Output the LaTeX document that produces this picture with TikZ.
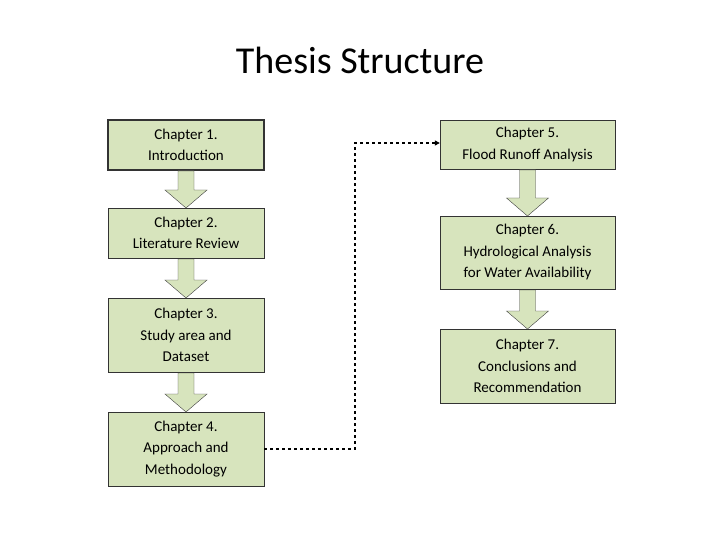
\documentclass[tikz,border=0pt]{standalone}
\usepackage{fontspec}
\setmainfont{Carlito}
\usetikzlibrary{arrows.meta}
\definecolor{boxg}{HTML}{D7E4BD}
\tikzset{
  chap/.style={draw=black!80, fill=boxg, minimum width=156pt, align=center, font=\fontsize{15}{21.5}\selectfont, inner sep=0pt},
  chapR/.style={chap, minimum width=175pt},
}
\newcommand{\blockarrow}[3]{% x, ytop, ybottom
  \draw[black!75, fill=boxg] (#1-8,#2) -- (#1+8,#2) -- (#1+8,#3-18) -- (#1+21,#3-18) -- (#1,#3) -- (#1-21,#3-18) -- (#1-8,#3-18) -- cycle;}
\begin{document}
\begin{tikzpicture}[x=1pt,y=-1pt]
\useasboundingbox (0,0) rectangle (720,540);
\node[font=\fontsize{38}{40}\selectfont] (title) at (360,60) {Thesis Structure};
\node[chap, line width=1.6pt, minimum height=50pt] (c1) at (186,145) {Chapter 1.\\Introduction};
\node[chap, minimum height=50pt] (c2) at (186,233) {Chapter 2.\\Literature Review};
\node[chap, minimum height=74pt] (c3) at (186,335) {Chapter 3.\\Study area and\\Dataset};
\node[chap, minimum height=74pt] (c4) at (186,449) {Chapter 4.\\Approach and\\Methodology};
\node[chapR, minimum height=49pt] (c5) at (527.5,144.5) {Chapter 5.\\Flood Runoff Analysis};
\node[chapR, minimum height=73pt] (c6) at (527.5,252.5) {Chapter 6.\\Hydrological Analysis\\for Water Availability};
\node[chapR, minimum height=74pt] (c7) at (527.5,366) {Chapter 7.\\Conclusions and\\Recommendation};
\blockarrow{186}{171}{208}
\blockarrow{186}{259}{298}
\blockarrow{186}{373}{412}
\blockarrow{527.5}{170}{216}
\blockarrow{527.5}{290}{329}
\draw[dashed, line width=1.2pt, -{Triangle[length=5pt,width=5pt]}] (c4.east) -| (355,143) -- (c5.west |- 0,143);
\end{tikzpicture}
\end{document}
